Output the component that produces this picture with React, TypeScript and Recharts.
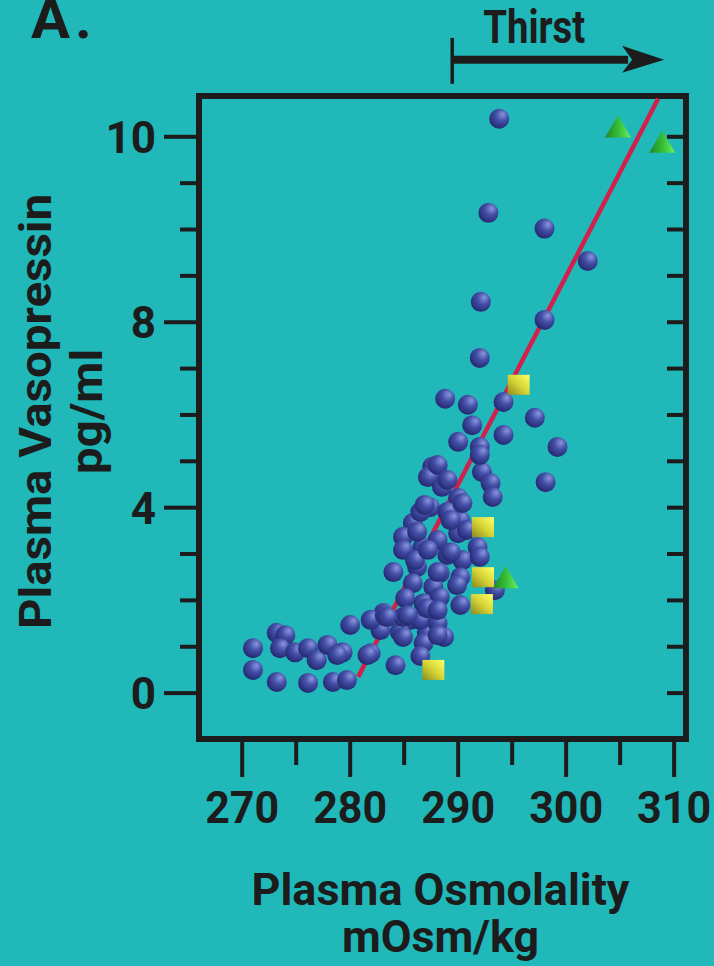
import React from 'react'
import {
  ScatterChart, Scatter, XAxis, YAxis, ReferenceArea, ReferenceLine,
} from 'recharts'

const INK = '#1c1c1c'
const TEAL = '#20b8b9'
const FONT = "Roboto, 'Liberation Sans', sans-serif"

// axis ticks and labels
const xTicks = [270, 275, 280, 285, 290, 295, 300, 305, 310]
const xMajorTicks = [270, 280, 290, 300, 310]
const yTicks = [0, 1, 2, 3, 4, 5, 6, 7, 8, 9, 10, 11, 12]
const yMajorTicks = [0, 4, 8, 12]
const yMajorLabels = ['0', '4', '8', '10']

// plasma osmolality (mOsm/kg), plasma vasopressin (axis units)
const roundPoints = [
  [293.8, 12.39], [292.8, 10.36], [298.0, 10.02], [302.0, 9.32], [292.1, 8.44], [298.0, 8.05], [292.0, 7.23],
  [288.8, 6.35], [290.9, 6.22], [294.2, 6.28], [297.1, 5.94], [291.3, 5.78], [290.0, 5.42], [292.0, 5.31],
  [294.2, 5.57], [299.2, 5.31], [298.1, 4.55], [292.2, 4.77], [293.0, 4.53], [293.2, 4.23], [287.6, 4.88],
  [287.2, 4.66], [288.5, 4.45], [290.0, 4.21], [287.4, 4.01], [289.0, 3.91], [285.8, 3.67], [290.2, 3.73],
  [290.0, 3.45], [284.9, 3.37], [286.7, 3.15], [291.8, 3.15], [284.9, 3.09], [289.0, 2.98], [290.4, 2.87],
  [284.0, 2.61], [286.2, 2.72], [288.3, 2.59], [290.2, 2.50], [285.8, 2.37], [287.7, 2.29], [293.4, 2.22],
  [285.1, 2.05], [286.8, 1.94], [288.3, 2.07], [290.2, 1.90], [283.1, 1.73], [285.6, 1.58], [287.7, 1.58],
  [282.8, 1.36], [284.6, 1.32], [287.1, 1.30], [286.5, 3.91], [288.1, 3.30], [286.0, 2.87],
  [288.1, 4.92], [289.0, 4.60], [290.4, 4.10], [286.9, 4.06], [289.3, 3.73], [286.2, 3.48], [290.8, 3.52],
  [287.2, 3.09], [289.3, 3.04], [292.0, 2.94], [288.1, 2.61], [289.9, 2.33], [284.9, 1.64], [286.5, 1.58],
  [288.1, 1.51], [284.9, 1.21], [288.7, 1.21], [292.0, 5.14], [285.3, 1.68], [287.1, 1.83],
  [271.0, 0.97], [271.0, 0.50], [273.2, 1.30], [274.0, 1.25], [273.5, 0.97], [274.9, 0.88], [276.1, 0.97],
  [276.9, 0.71], [277.9, 1.04], [279.3, 0.88], [280.0, 1.47], [281.9, 1.58], [283.2, 1.68], [281.9, 0.86],
  [273.2, 0.24], [276.1, 0.22], [278.4, 0.24], [279.7, 0.28], [284.2, 0.60], [286.8, 1.08], [288.1, 1.25],
  [286.5, 0.80], [288.1, 1.79], [283.4, 1.64], [278.8, 0.82], [281.6, 0.82],
]
const squarePoints = [[295.6, 6.65], [292.3, 3.58], [292.3, 2.50], [292.2, 1.92], [287.7, 0.50]]
const trianglePoints = [[304.8, 12.20], [308.9, 11.87], [294.4, 2.48]]
const fitLine = [[280.74, 0.35], [308.52, 12.82]]

const toRows = (pts: number[][]) => pts.map(([osm, avp]) => ({ osm, avp }))

// Thirst arrow (starts at threshold osmolality)
const thirstFrom = 289.45
const thirstTo = 309.07
const thirstLevel = 13.66

const BottomTick = ({ x, y, payload }: any) => {
  const v = payload.value
  const major = xMajorTicks.includes(v)
  return (
    <g>
      <line x1={x} x2={x} y1={y + 3} y2={y + (major ? 38 : 26)} stroke={INK} strokeWidth={4} />
      {major && (
        <text x={x} y={y + 84} textAnchor="middle" fill={INK} fontFamily={FONT} fontWeight={700} fontSize={44}
          textLength={74} lengthAdjust="spacingAndGlyphs">
          {v}
        </text>
      )}
    </g>
  )
}

const TopTick = ({ x, y }: any) => (
  <line x1={x} x2={x} y1={y + 3} y2={y + 19} stroke={INK} strokeWidth={4} />
)

const LeftTick = ({ x, y, payload }: any) => {
  const idx = yMajorTicks.indexOf(payload.value)
  const major = idx >= 0
  return (
    <g>
      <line x1={x - (major ? 35 : 19)} x2={x - 3} y1={y} y2={y} stroke={INK} strokeWidth={4} />
      {major && (
        <text x={x - 43} y={y + 16} textAnchor="end" fill={INK} fontFamily={FONT} fontWeight={700} fontSize={44}>
          {yMajorLabels[idx]}
        </text>
      )}
    </g>
  )
}

const RightTick = ({ x, y }: any) => (
  <line x1={x - 19} x2={x - 3} y1={y} y2={y} stroke={INK} strokeWidth={4} />
)

const XTitle = ({ viewBox }: any) => {
  if (!viewBox) return null
  const cx = viewBox.x + viewBox.width / 2 - 2
  return (
    <g textAnchor="middle" fill={INK} fontFamily={FONT} fontWeight={700} fontSize={45}>
      <text x={cx} y={viewBox.y + 166} textLength={378} lengthAdjust="spacingAndGlyphs">Plasma Osmolality</text>
      <text x={cx} y={viewBox.y + 213} textLength={197} lengthAdjust="spacingAndGlyphs">mOsm/kg</text>
    </g>
  )
}

const YTitle = ({ viewBox }: any) => {
  if (!viewBox) return null
  const cy = viewBox.y + viewBox.height / 2 - 6
  return (
    <g fill={INK} fontFamily={FONT} fontWeight={700} fontSize={45}>
      <text x={51} y={cy} textAnchor="middle" transform={`rotate(-90, 51, ${cy})`}
        textLength={435} lengthAdjust="spacingAndGlyphs">Plasma Vasopressin</text>
      <text x={102} y={cy} textAnchor="middle" transform={`rotate(-90, 102, ${cy})`}
        textLength={125} lengthAdjust="spacingAndGlyphs">pg/ml</text>
    </g>
  )
}

const ThirstArrow = ({ x1, y1, x2 }: any) => (
  <g>
    <line x1={x1} x2={x1} y1={y1 - 22} y2={y1 + 24} stroke={INK} strokeWidth={3.5} />
    <line x1={x1} x2={x2 - 36} y1={y1} y2={y1} stroke={INK} strokeWidth={8} />
    <polygon points={`${x2 - 42},${y1 - 14} ${x2},${y1} ${x2 - 42},${y1 + 13} ${x2 - 32},${y1}`} fill={INK} />
    <text x={x1 + 82} y={y1 - 17} textAnchor="middle" fill={INK} fontFamily={FONT} fontWeight={700} fontSize={46}
      textLength={102} lengthAdjust="spacingAndGlyphs">
      Thirst
    </text>
  </g>
)

const Ball = ({ cx, cy }: any) => <circle cx={cx} cy={cy} r={10} fill="url(#ballShade)" />
const Block = ({ cx, cy }: any) => <rect x={cx - 11} y={cy - 10} width={22} height={20} fill="url(#blockShade)" />
const Pyramid = ({ cx, cy }: any) => (
  <polygon points={`${cx},${cy - 12} ${cx + 13},${cy + 10} ${cx - 13},${cy + 10}`} fill="url(#pyramidShade)" />
)
const NoDot = () => <g />

export default function App() {
  return (
    <div style={{ position: 'absolute', left: 0, top: 0, width: 714, height: 966, background: TEAL, overflow: 'hidden' }}>
      <svg width={714} height={966} style={{ position: 'absolute', left: 0, top: 0 }}>
        <text x={31} y={38} fill={INK} fontFamily={FONT} fontWeight={700} fontSize={58} letterSpacing={5}>A.</text>
      </svg>
      <ScatterChart width={714} height={966} margin={{ top: 0, right: 0, bottom: 0, left: 0 }} style={{ position: 'absolute', left: 0, top: 0 }}>
        <defs>
          <radialGradient id="ballShade" cx="0.6" cy="0.35" r="0.7" fx="0.68" fy="0.28">
            <stop offset="0%" stopColor="#8a96de" />
            <stop offset="45%" stopColor="#434ea6" />
            <stop offset="100%" stopColor="#21256c" />
          </radialGradient>
          <linearGradient id="blockShade" x1="0" y1="1" x2="1" y2="0">
            <stop offset="0%" stopColor="#8c8a1c" />
            <stop offset="50%" stopColor="#d6d436" />
            <stop offset="100%" stopColor="#ffff66" />
          </linearGradient>
          <linearGradient id="pyramidShade" x1="0" y1="0" x2="1" y2="0">
            <stop offset="0%" stopColor="#1f8424" />
            <stop offset="55%" stopColor="#38c23a" />
            <stop offset="100%" stopColor="#6cf060" />
          </linearGradient>
        </defs>
        <XAxis
          xAxisId="bottom" orientation="bottom" type="number" dataKey="osm" height={227}
          domain={[266, 311.1]} allowDataOverflow ticks={xTicks} interval={0}
          axisLine={false} tickLine={false} tickSize={0} tickMargin={0} tick={<BottomTick />}
          label={{ content: <XTitle /> }}
        />
        <XAxis
          xAxisId="top" orientation="top" type="number" height={96}
          domain={[266, 311.1]} allowDataOverflow ticks={xTicks} interval={0}
          axisLine={false} tickLine={false} tickSize={0} tickMargin={0} tick={<TopTick />}
        />
        <YAxis
          yAxisId="left" orientation="left" type="number" dataKey="avp" width={199}
          domain={[-0.99, 12.88]} allowDataOverflow ticks={yTicks} interval={0}
          axisLine={false} tickLine={false} tickSize={0} tickMargin={0} tick={<LeftTick />}
          label={{ content: <YTitle /> }}
        />
        <YAxis
          yAxisId="right" orientation="right" type="number" width={28}
          domain={[-0.99, 12.88]} allowDataOverflow ticks={yTicks} interval={0}
          axisLine={false} tickLine={false} tickSize={0} tickMargin={0} tick={<RightTick />}
        />
        <ReferenceArea
          xAxisId="bottom" yAxisId="left" x1={266} x2={311.1} y1={-0.99} y2={12.88}
          fill="none" fillOpacity={0} stroke={INK} strokeWidth={6} ifOverflow="visible"
        />
        <ReferenceLine
          xAxisId="bottom" yAxisId="left" ifOverflow="visible"
          segment={[{ x: thirstFrom, y: thirstLevel }, { x: thirstTo, y: thirstLevel }]}
          shape={(p: any) => <ThirstArrow {...p} />}
        />
        <Scatter
          xAxisId="bottom" yAxisId="left" data={toRows(fitLine)} isAnimationActive={false}
          line={{ stroke: '#d2204c', strokeWidth: 4.5 }} shape={<NoDot />}
        />
        <Scatter xAxisId="bottom" yAxisId="left" data={toRows(roundPoints)} isAnimationActive={false} shape={<Ball />} />
        <Scatter xAxisId="bottom" yAxisId="left" data={toRows(squarePoints)} isAnimationActive={false} shape={<Block />} />
        <Scatter xAxisId="bottom" yAxisId="left" data={toRows(trianglePoints)} isAnimationActive={false} shape={<Pyramid />} />
      </ScatterChart>
    </div>
  )
}
